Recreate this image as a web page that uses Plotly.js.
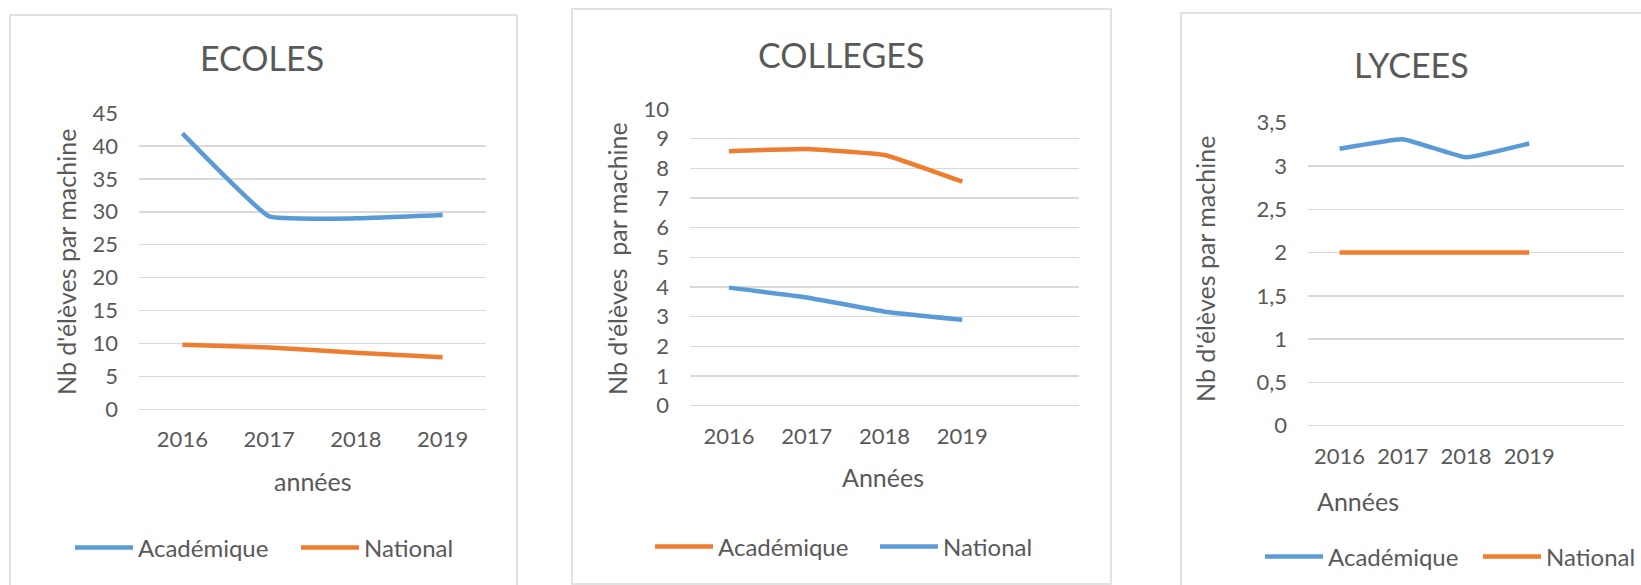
<!DOCTYPE html>
<html>
<head>
<meta charset="utf-8">
<script src="https://cdn.plot.ly/plotly-3.0.1.min.js"></script>
<style>html,body{margin:0;padding:0;background:#fff;}#chart{width:1641px;height:585px;}</style>
</head>
<body>
<div id="chart"></div>
<script>
// ---- data ----
const years4 = ['2016', '2017', '2018', '2019'];

const ecolesAcademique = [41.9, 29.3, 29.0, 29.5];
const ecolesNational = [9.8, 9.4, 8.6, 7.9];

const collegesAcademique = [8.58, 8.65, 8.45, 7.55];
const collegesNational = [3.98, 3.65, 3.17, 2.9];

const lyceesAcademique = [3.2, 3.31, 3.1, 3.26];
const lyceesNational = [2.0, 2.0, 2.0, 2.0];

const panelTitles = ['ECOLES', 'COLLEGES', 'LYCEES'];
const yTitles = ["Nb d'élèves par machine", "Nb d'élèves\u00a0 par machine", "Nb d'élèves par machine"];
const xTitles = ['années', 'Années', 'Années'];
const seriesNames = ['Académique', 'National'];

// ---- styling ----
const BLUE = '#5b9bd5';
const ORANGE = '#ed7d31';
const TXT = '#595959';
const GRID = '#d9d9d9';
const W = 1641, H = 585;
const px = v => v / W;
const py = v => 1 - v / H;
const LW = 4.5;
const FONT = 'Lato, sans-serif';

function line(x, y, name, color, xa, ya, lg) {
  return {
    type: 'scatter', mode: 'lines', x: x, y: y, name: name,
    line: {color: color, width: LW, shape: 'spline', smoothing: 0.3},
    xaxis: xa, yaxis: ya, legend: lg, hoverinfo: 'x+y+name'
  };
}

const data = [
  line(years4, ecolesAcademique, seriesNames[0], BLUE, 'x', 'y', 'legend'),
  line(years4, ecolesNational, seriesNames[1], ORANGE, 'x', 'y', 'legend'),
  line(years4, collegesAcademique, seriesNames[0], ORANGE, 'x2', 'y2', 'legend2'),
  line(years4, collegesNational, seriesNames[1], BLUE, 'x2', 'y2', 'legend2'),
  line(years4, lyceesAcademique, seriesNames[0], BLUE, 'x3', 'y3', 'legend3'),
  line(years4, lyceesNational, seriesNames[1], ORANGE, 'x3', 'y3', 'legend3')
];

const tickFont = {family: FONT, size: 22, color: TXT};

function xAxis(domain, range, anchor) {
  return {
    domain: domain, type: 'category', range: range, anchor: anchor,
    showgrid: false, zeroline: false, showline: false, ticks: '',
    tickfont: tickFont, ticklabelstandoff: 15, fixedrange: true, automargin: false
  };
}
function yAxis(domain, range, dtick, anchor) {
  return {
    domain: domain, range: range, dtick: dtick, anchor: anchor,
    showgrid: true, gridcolor: GRID, gridwidth: 1.5,
    zeroline: true, zerolinecolor: GRID, zerolinewidth: 1.5,
    showline: false, ticks: '', tickfont: tickFont,
    ticklabelstandoff: 20, fixedrange: true, automargin: false
  };
}

function legendAt(xpx, ypx, entry) {
  return {
    orientation: 'h', x: px(xpx), y: py(ypx), xanchor: 'left', yanchor: 'middle',
    font: {family: FONT, size: 24, color: TXT},
    bgcolor: 'rgba(0,0,0,0)', borderwidth: 0, itemwidth: 58,
    entrywidth: entry, entrywidthmode: 'pixels', traceorder: 'normal'
  };
}

function ann(text, xpx, ypx, size, angle) {
  return {
    text: text, xref: 'paper', yref: 'paper', x: px(xpx), y: py(ypx),
    xanchor: 'center', yanchor: 'middle', showarrow: false,
    textangle: angle || 0,
    font: {family: FONT, size: size, color: TXT}
  };
}

function box(x0, y0, x1, y1) {
  return {
    type: 'rect', xref: 'paper', yref: 'paper',
    x0: px(x0), x1: px(x1), y0: py(y1), y1: py(y0),
    line: {color: GRID, width: 1.5}, fillcolor: 'rgba(0,0,0,0)', layer: 'below'
  };
}

const layout = {
  width: W, height: H,
  margin: {l: 0, r: 0, t: 0, b: 0, autoexpand: false},
  paper_bgcolor: '#ffffff', plot_bgcolor: 'rgba(0,0,0,0)',
  font: {family: FONT, color: TXT},
  separators: ', ',
  showlegend: true,
  xaxis: xAxis([px(139), px(486)], [-0.5, 3.5], 'y'),
  yaxis: yAxis([py(409.3), py(113)], [0, 45.0001], 5, 'x'),
  xaxis2: xAxis([px(690), px(1079)], [-0.5, 4.5], 'y2'),
  yaxis2: yAxis([py(405.7), py(109)], [0, 10.0001], 1, 'x2'),
  xaxis3: xAxis([px(1308), px(1624)], [-0.5, 4.5], 'y3'),
  yaxis3: yAxis([py(425.7), py(122.7)], [0, 3.5001], 0.5, 'x3'),
  legend: legendAt(70, 548, 153),
  legend2: legendAt(650, 547, 152),
  legend3: legendAt(1260, 557, 145),
  annotations: [
    ann(panelTitles[0], 262, 58, 34),
    ann(panelTitles[1], 841, 54, 34),
    ann(panelTitles[2], 1411, 64, 34),
    ann(yTitles[0], 66, 262, 25, -90),
    ann(yTitles[1], 617, 259, 25, -90),
    ann(yTitles[2], 1205, 269, 25, -90),
    ann(xTitles[0], 313, 481, 25),
    ann(xTitles[1], 883, 477, 25),
    ann(xTitles[2], 1358, 501, 25)
  ],
  shapes: [
    box(10, 15, 517, 640),
    box(572, 9, 1111, 584),
    box(1181, 13, 1700, 640)
  ]
};

Plotly.newPlot('chart', data, layout, {staticPlot: true, displayModeBar: false});
</script>
</body>
</html>
